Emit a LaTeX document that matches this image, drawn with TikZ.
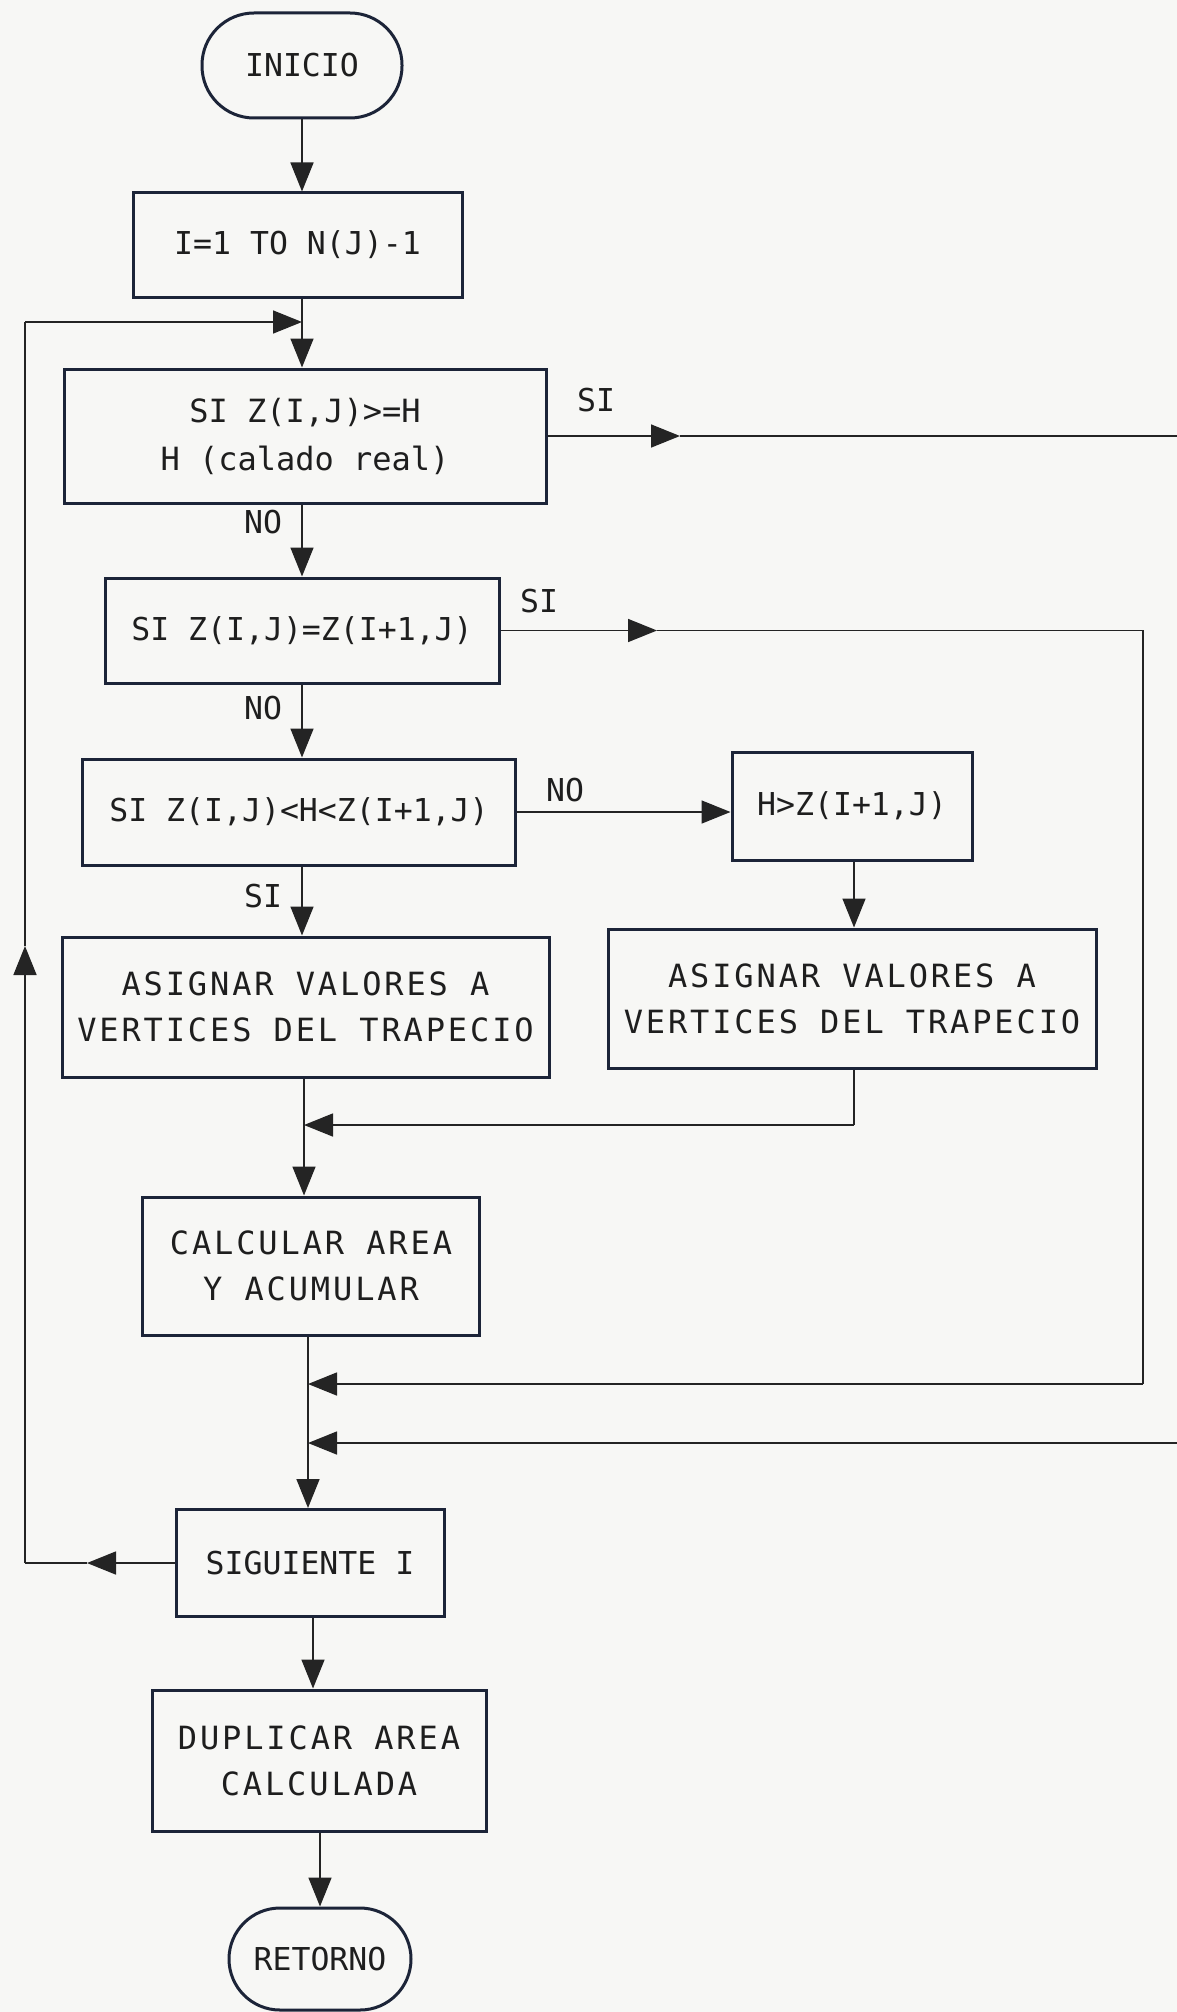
\documentclass[tikz,border=0pt]{standalone}
\usepackage{fontspec}
\newfontfamily\cadfont{DejaVu Sans Mono}
\newfontfamily\cadwide{DejaVu Sans Mono}[LetterSpace=9]
\usetikzlibrary{arrows.meta}

\definecolor{paper}{RGB}{247,247,245}
\definecolor{boxline}{RGB}{28,36,56}
\definecolor{wire}{RGB}{36,36,36}
\definecolor{ink}{RGB}{30,30,30}

\begin{document}
\begin{tikzpicture}[x=1pt,y=-1pt,
  every node/.style={text=ink, align=center, inner sep=4pt},
  small/.style={font=\cadfont\fontsize{31.5}{48}\selectfont},
  large/.style={font=\cadwide\fontsize{32}{46}\selectfont},
  proc/.style={draw=boxline, line width=3pt, rectangle},
  term/.style={draw=boxline, line width=3pt, rectangle},
  wireline/.style={draw=wire, line width=1.6pt},
  arr/.style={wireline, -{Triangle[length=29pt,width=23pt]}},
  lbl/.style={small, inner sep=0pt}
]
% page
\fill[paper] (0,0) rectangle (1177,2012);
\useasboundingbox (0,0) rectangle (1177,2012);

% main column
\node[term, small, rounded corners=52pt, minimum width=200pt, minimum height=105pt] (inicio) at (302,65.5) {INICIO};
\node[proc, small, minimum width=329pt, minimum height=104pt] (b1) at (297.5,245) {I=1 TO N(J)-1};
\node[proc, font=\cadfont\fontsize{32}{48}\selectfont, minimum width=482pt, minimum height=134pt] (b2) at (305,436) {SI Z(I,J)>=H\\H (calado real)};
\node[proc, small, minimum width=394pt, minimum height=105pt] (b3) at (302,630.5) {SI Z(I,J)=Z(I+1,J)};
\node[proc, small, minimum width=433pt, minimum height=106pt] (b4) at (299,812) {SI Z(I,J)<H<Z(I+1,J)};
\node[proc, small, minimum width=240pt, minimum height=108pt] (b5) at (852,806) {H>Z(I+1,J)};
\node[proc, large, minimum width=487pt, minimum height=140pt] (b6) at (305.5,1007) {ASIGNAR VALORES A\\VERTICES DEL TRAPECIO};
\node[proc, large, minimum width=488pt, minimum height=139pt] (b7) at (852,998.5) {ASIGNAR VALORES A\\VERTICES DEL TRAPECIO};
\node[proc, large, minimum width=337pt, minimum height=138pt] (b8) at (311,1266) {CALCULAR AREA\\Y ACUMULAR};
\node[proc, small, minimum width=268pt, minimum height=107pt] (b9) at (310,1563) {SIGUIENTE I};
\node[proc, large, minimum width=334pt, minimum height=141pt] (b10) at (319,1760.5) {DUPLICAR AREA\\CALCULADA};
\node[term, small, rounded corners=51pt, minimum width=182pt, minimum height=102pt] (retorno) at (320,1959) {RETORNO};

% branch labels
\node[lbl] (siA) at (596,400) {SI};
\node[lbl] (noA) at (263,522) {NO};
\node[lbl] (siB) at (539,601) {SI};
\node[lbl] (noB) at (263,708) {NO};
\node[lbl] (noC) at (565,790) {NO};
\node[lbl] (siC) at (263,896) {SI};

% columns of the main flow (the line drifts slightly to the right going down)
\coordinate (colA) at (302,0);
\coordinate (colB) at (304,0);
\coordinate (colC) at (308,0);
\coordinate (colD) at (313,0);
\coordinate (colE) at (320,0);

% junction points
\coordinate (loopTop) at (25,322);
\coordinate (joinTop) at (302,322);
\coordinate (loopBot) at (25,1563);
\coordinate (upTip) at (25,946);
\coordinate (leftTip) at (87,1563);
\coordinate (siAtip) at (680,436);
\coordinate (edgeA) at (1177,436);
\coordinate (edgeB) at (1177,1443);
\coordinate (joinA) at (308,1443);
\coordinate (siBtip) at (657,630.5);
\coordinate (rightB) at (1143,630.5);
\coordinate (rightBlow) at (1143,1384);
\coordinate (joinB) at (308,1384);
\coordinate (b7low) at (854,1125);
\coordinate (joinC) at (304,1125);

% straight-down flow
\draw[arr] (inicio.south -| colA) -- (b1.north -| colA);
\draw[wireline] (b1.south -| colA) -- (joinTop);
\draw[arr] (joinTop) -- (b2.north -| colA);
\draw[arr] (b2.south -| colA) -- (b3.north -| colA);
\draw[arr] (b3.south -| colA) -- (b4.north -| colA);
\draw[arr] (b4.south -| colA) -- (b6.north -| colA);
\draw[arr] (b6.south -| colB) -- (b8.north -| colB);
\draw[arr] (b8.south -| colC) -- (b9.north -| colC);
\draw[arr] (b9.south -| colD) -- (b10.north -| colD);
\draw[arr] (b10.south -| colE) -- (retorno.north -| colE);

% NO branch of the third test
\draw[arr] (b4.east) -- (b4.east -| b5.west);
\draw[arr] (b5.south -| b7low) -- (b7.north -| b7low);
\draw[wireline] (b7.south -| b7low) -- (b7low);
\draw[arr] (b7low) -- (joinC);

% SI branch of the first test: runs off to the right and returns
\draw[arr] (b2.east) -- (siAtip);
\draw[wireline] (siAtip) -- (edgeA);
\draw[arr] (edgeB) -- (joinA);

% SI branch of the second test
\draw[arr] (b3.east) -- (siBtip);
\draw[wireline] (siBtip) -- (rightB) -- (rightBlow);
\draw[arr] (rightBlow) -- (joinB);

% loop back for the next I
\draw[arr] (b9.west) -- (leftTip);
\draw[wireline] (leftTip) -- (loopBot);
\draw[arr] (loopBot) -- (upTip);
\draw[wireline] (upTip) -- (loopTop);
\draw[arr] (loopTop) -- (joinTop);
\end{tikzpicture}
\end{document}
